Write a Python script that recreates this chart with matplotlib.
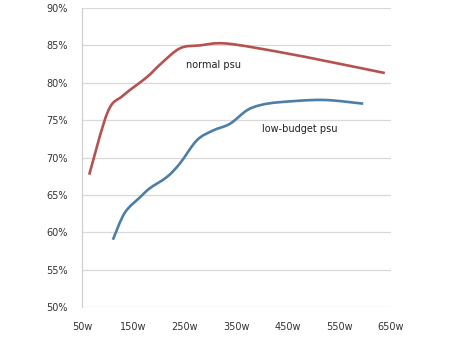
import matplotlib
matplotlib.use("Agg")
import matplotlib.pyplot as plt
from matplotlib.path import Path
from matplotlib.patches import PathPatch
from matplotlib.ticker import FuncFormatter

# PSU efficiency vs load
normal_w = [64, 100, 130, 176, 201, 240, 279, 330, 434, 531, 638]
normal_eff = [67.7, 76.1, 78.3, 80.75, 82.4, 84.6, 85.0, 85.25, 84.1, 82.8, 81.3]

budget_w = [110, 133, 163, 182, 215, 240, 273, 304, 337, 370, 396, 434, 518, 596]
budget_eff = [59.0, 62.6, 64.7, 65.9, 67.4, 69.2, 72.3, 73.6, 74.5, 76.3, 77.0, 77.4, 77.7, 77.2]

x_ticks = [50, 150, 250, 350, 450, 550, 650]
y_ticks = [50, 55, 60, 65, 70, 75, 80, 85, 90]


def smooth_path(xs, ys):
    """Catmull-Rom style smoothed line built from cubic Bezier segments."""
    pts = list(zip(xs, ys))
    n = len(pts)
    verts = [pts[0]]
    codes = [Path.MOVETO]
    for i in range(n - 1):
        p0 = pts[i - 1] if i > 0 else pts[i]
        p1 = pts[i]
        p2 = pts[i + 1]
        p3 = pts[i + 2] if i + 2 < n else pts[i + 1]
        c1 = (p1[0] + (p2[0] - p0[0]) / 6, p1[1] + (p2[1] - p0[1]) / 6)
        c2 = (p2[0] - (p3[0] - p1[0]) / 6, p2[1] - (p3[1] - p1[1]) / 6)
        verts += [c1, c2, p2]
        codes += [Path.CURVE4] * 3
    return Path(verts, codes)


fig = plt.figure(figsize=(4.5, 3.38), dpi=100)
ax = fig.add_axes([82 / 450, 1 - 307 / 338, (391 - 82) / 450, (307 - 8) / 338])

for xs, ys, col in [(normal_w, normal_eff, "#b5524f"), (budget_w, budget_eff, "#4d7ea6")]:
    ax.add_patch(PathPatch(smooth_path(xs, ys), fill=False, edgecolor=col, lw=1.9,
                           joinstyle="round", capstyle="butt"))

ax.text(252, 82.4, "normal psu", fontsize=7, color="#222222", va="center", ha="left")
ax.text(399, 73.8, "low-budget psu", fontsize=7, color="#222222", va="center", ha="left")

ax.set_xlim(50, 650)
ax.set_ylim(50, 90)
ax.set_xticks(x_ticks)
ax.set_yticks(y_ticks)
ax.xaxis.set_major_formatter(FuncFormatter(lambda v, p: f"{int(v)}w"))
ax.yaxis.set_major_formatter(FuncFormatter(lambda v, p: f"{int(v)}%"))
ax.tick_params(length=0, labelsize=7, colors="#333333")
ax.tick_params(axis="y", pad=10)
ax.tick_params(axis="x", pad=11)

ax.grid(axis="y", color="#d9d9d9", lw=0.9)
ax.set_axisbelow(True)
for s in ["top", "right", "bottom"]:
    ax.spines[s].set_visible(False)
ax.spines["left"].set_color("#d0d0d0")
ax.spines["left"].set_linewidth(0.9)

fig.savefig("out.png", dpi=100, facecolor="white")
